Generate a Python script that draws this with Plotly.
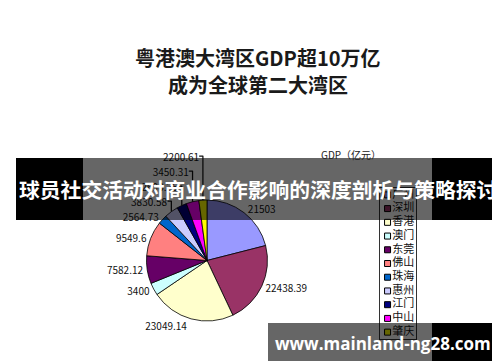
import plotly.graph_objects as go

# ---- data ----
cities = ["广州", "深圳", "香港", "澳门", "东莞", "佛山", "珠海", "惠州", "江门", "中山", "肇庆"]
gdp = [21503, 22438.39, 23049.14, 3400, 7582.12, 9549.6, 2564.73, 3830.58, 2690.25, 3450.31, 2200.61]
colors = ["#9999FF", "#993366", "#FFFFCC", "#CCFFFF", "#660066", "#FF8080",
          "#0066CC", "#CCCCFF", "#000080", "#FF00FF", "#FFFF00"]

title_lines = ["粤港澳大湾区GDP超10万亿", "成为全球第二大湾区"]
series_title = "GDP（亿元）"
banner_text = "球员社交活动对商业合作影响的深度剖析与策略探讨"
site_text = "www.mainland-ng28.com"


def fmt(v):
    s = "%.2f" % v
    return s.rstrip("0").rstrip(".")


W, H = 500, 362
CJK = "Noto Sans CJK SC"

fig = go.Figure()

fig.add_trace(go.Pie(
    labels=cities,
    values=gdp,
    text=[fmt(v) for v in gdp],
    textinfo="text",
    textposition="outside",
    textfont=dict(family=CJK, size=10, color="#111"),
    marker=dict(colors=colors, line=dict(color="#000000", width=0.8)),
    sort=False,
    direction="clockwise",
    rotation=0,
    domain=dict(x=[(199 - 60.5) / W, (199 + 60.5) / W], y=[1 - 313 / H, 1 - 192 / H]),
    hoverinfo="label+value",
    showlegend=False,
))

# manual legend drawn as a scatter on its own axes
idx = list(range(len(cities)))
fig.add_trace(go.Scatter(
    x=[0.21] * len(cities),
    y=idx,
    mode="markers+text",
    marker=dict(symbol="square", size=6, color=colors, line=dict(color="#000", width=1)),
    text=cities,
    textposition="middle right",
    textfont=dict(family=CJK, size=11, color="#111"),
    xaxis="x2", yaxis="y2",
    showlegend=False,
    hoverinfo="skip",
))

fig.update_layout(
    width=W, height=H,
    margin=dict(l=0, r=0, t=0, b=0),
    paper_bgcolor="white",
    plot_bgcolor="rgba(0,0,0,0)",
    showlegend=False,
    xaxis2=dict(domain=[372 / W, 408 / W], range=[0, 1], showgrid=False, zeroline=False,
                showticklabels=False, showline=True, mirror=True, linecolor="#333", linewidth=1,
                fixedrange=True),
    yaxis2=dict(domain=[1 - 331 / H, 1 - 180 / H], range=[len(cities) - 0.5, -0.5],
                showgrid=False, zeroline=False, showticklabels=False, showline=True,
                mirror=True, linecolor="#333", linewidth=1, anchor="x2", fixedrange=True),
    xaxis=dict(visible=False), yaxis=dict(visible=False),
)

annotations = [
    dict(x=0.5, y=1 - 50 / H, text="<b>%s</b>" % title_lines[0], font=dict(family=CJK, size=20, color="#1a1a1a")),
    dict(x=0.5, y=1 - 76 / H, text="<b>%s</b>" % title_lines[1], font=dict(family=CJK, size=20, color="#1a1a1a")),
    dict(x=343 / W, y=1 - 146 / H, text=series_title, font=dict(family=CJK, size=10, color="#222")),
    dict(x=0.5, y=1 - 181 / H, text="<b>%s</b>" % banner_text, font=dict(family=CJK, size=20.8, color="white")),
    dict(x=375 / W, y=1 - 335 / H, text="<b>%s</b>" % site_text, font=dict(family="Open Sans", size=17, color="white")),
]
for a in annotations:
    a.update(xref="paper", yref="paper", showarrow=False, xanchor="center", yanchor="middle")
fig.update_layout(annotations=annotations)


def rect(x0, y0, x1, y1, fill):
    return dict(type="rect", xref="paper", yref="paper", x0=x0 / W, x1=x1 / W,
                y0=1 - y1 / H, y1=1 - y0 / H, fillcolor=fill, line=dict(width=0), layer="above")


fig.update_layout(shapes=[
    rect(8, 150, 75, 212, "black"),
    rect(75, 150, 424, 212, "rgba(0,0,0,0.6)"),
    rect(424, 150, 492, 212, "black"),
    rect(260, 315, 424, 353, "rgba(0,0,0,0.6)"),
    rect(424, 315, 491, 353, "black"),
])

fig.write_html("out.html")
